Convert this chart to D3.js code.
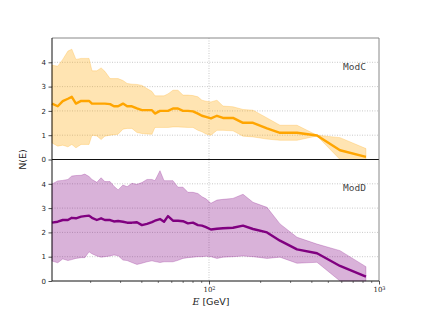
<!DOCTYPE html>
<html>
<head>
<meta charset="utf-8">
<script src="https://cdn.jsdelivr.net/npm/d3@7"></script>
<style>
  body { margin: 0; background: #fff; }
  svg { display: block; }
  .tick text { font-family: "DejaVu Sans", sans-serif; font-size: 7px; fill: #222; }
  .grid line { stroke: #bbb; stroke-width: 0.8; stroke-dasharray: 1,1.5; }
</style>
</head>
<body>
<div id="chart"></div>
<script>
// energy bins (GeV), shared by both panels
const energy = [11.93, 12.9, 13.8, 14.8, 15.6, 16.5, 17.7, 18.6, 19.7, 20.5, 21.9, 23.2, 24.4, 26.2, 27.6, 29.2,
  31.2, 33.0, 35.2, 37.7, 40.3, 43.2, 46.2, 48.1, 51.5, 54.4, 57.4, 61.4, 65.7, 70.3, 75.2, 80.5, 86.1, 90.9,
  96.0, 102.7, 111.4, 120.9, 138.4, 158.5, 181.5, 219.4, 261.6, 329.4, 431.8, 589.7, 838];

// ModC
const modCMean = [2.30, 2.19, 2.40, 2.50, 2.58, 2.30, 2.41, 2.41, 2.41, 2.30, 2.30, 2.30, 2.30, 2.28, 2.19, 2.19,
  2.30, 2.19, 2.19, 2.10, 2.03, 2.03, 2.03, 1.89, 2.00, 2.00, 2.00, 2.10, 2.10, 2.00, 2.00, 1.98, 1.89, 1.80,
  1.75, 1.69, 1.80, 1.71, 1.71, 1.51, 1.51, 1.28, 1.10, 1.10, 0.99, 0.38, 0.11];
const modCUpper = [3.88, 3.84, 4.12, 4.46, 4.54, 4.12, 4.16, 4.16, 4.16, 3.65, 3.65, 3.77, 3.63, 3.33, 3.33, 3.33,
  3.25, 3.13, 3.10, 3.09, 3.05, 2.92, 2.80, 2.62, 2.62, 2.62, 2.70, 2.85, 2.85, 2.65, 2.65, 2.63, 2.58, 2.44,
  2.40, 2.37, 2.44, 2.20, 2.17, 2.06, 2.03, 1.71, 1.41, 1.41, 1.00, 0.90, 0.45];
const modCLower = [0.68, 0.55, 0.59, 0.52, 0.62, 0.48, 0.62, 0.62, 0.62, 1.00, 0.97, 0.82, 0.96, 1.00, 1.02, 1.04,
  1.25, 1.28, 1.28, 1.11, 1.07, 1.05, 1.04, 1.32, 1.32, 1.32, 1.32, 1.34, 1.34, 1.33, 1.32, 1.32, 1.20, 1.14,
  1.05, 1.00, 1.20, 1.20, 1.18, 0.96, 0.93, 0.84, 0.79, 0.79, 0.97, 0.00, 0.00];

// ModD
const modDMean = [2.40, 2.44, 2.51, 2.51, 2.60, 2.58, 2.65, 2.67, 2.69, 2.60, 2.51, 2.58, 2.51, 2.51, 2.45, 2.47,
  2.44, 2.40, 2.40, 2.42, 2.30, 2.35, 2.42, 2.48, 2.55, 2.44, 2.67, 2.48, 2.48, 2.46, 2.37, 2.40, 2.30, 2.28,
  2.22, 2.12, 2.15, 2.17, 2.19, 2.28, 2.14, 2.00, 1.66, 1.30, 1.14, 0.62, 0.18];
const modDUpper = [3.99, 4.12, 4.14, 4.18, 4.32, 4.34, 4.35, 4.40, 4.30, 4.18, 4.06, 4.25, 4.09, 4.09, 3.90, 3.75,
  3.95, 3.88, 4.02, 3.98, 4.05, 4.18, 4.18, 4.13, 4.54, 4.13, 4.13, 4.13, 3.86, 3.86, 3.65, 3.65, 3.60, 3.47,
  3.38, 3.20, 3.33, 3.36, 3.40, 3.57, 3.24, 3.03, 2.35, 1.80, 1.52, 1.25, 0.59];
const modDLower = [0.82, 0.75, 0.91, 0.84, 0.88, 0.93, 0.96, 0.96, 1.20, 1.12, 1.03, 0.98, 1.00, 1.03, 1.07, 1.04,
  0.86, 0.84, 0.76, 0.68, 0.73, 0.79, 0.83, 0.80, 0.76, 0.79, 0.79, 0.79, 0.85, 0.93, 0.96, 0.98, 1.00, 1.00,
  1.02, 1.00, 0.93, 0.98, 1.00, 1.03, 1.00, 0.93, 0.98, 0.73, 0.77, 0.00, 0.00];

const yTicks = [0, 1, 2, 3, 4];
const xMajor = [100, 1000];
const xMinor = [20, 30, 40, 50, 60, 70, 80, 90, 200, 300, 400, 500, 600, 700, 800, 900];

const panels = [
  { name: 'ModC', color: '#ffa500', fill: 'rgba(255,165,0,0.3)', mean: modCMean, upper: modCUpper, lower: modCLower },
  { name: 'ModD', color: '#800080', fill: 'rgba(128,0,128,0.3)', mean: modDMean, upper: modDUpper, lower: modDLower }
];

const W = 421, H = 316;
const margin = { left: 52, right: 42, top: 38 };
const panelH = 121.5;
const plotW = W - margin.left - margin.right;

const svg = d3.select('#chart').append('svg').attr('width', W).attr('height', H);

const x = d3.scaleLog().domain([11.93, 1000]).range([margin.left, margin.left + plotW]);

panels.forEach((p, i) => {
  const top = margin.top + i * panelH;
  const y = d3.scaleLinear().domain([0, 5]).range([top + panelH, top]);
  const g = svg.append('g');

  // grid
  const grid = g.append('g').attr('class', 'grid');
  grid.selectAll('.hg').data([1, 2, 3, 4]).join('line')
    .attr('x1', margin.left).attr('x2', margin.left + plotW)
    .attr('y1', d => y(d)).attr('y2', d => y(d));
  grid.selectAll('.vg').data([100]).join('line')
    .attr('x1', d => x(d)).attr('x2', d => x(d))
    .attr('y1', top).attr('y2', top + panelH);

  const rows = energy.map((e, k) => ({ e, m: p.mean[k], lo: p.lower[k], hi: p.upper[k] }));

  g.append('path').datum(rows)
    .attr('fill', p.fill)
    .attr('stroke', p.fill)
    .attr('stroke-width', 0.8)
    .attr('d', d3.area().x(d => x(d.e)).y0(d => y(d.lo)).y1(d => y(d.hi)));

  g.append('path').datum(rows)
    .attr('fill', 'none')
    .attr('stroke', p.color)
    .attr('stroke-width', 2.4)
    .attr('stroke-linejoin', 'round')
    .attr('d', d3.line().x(d => x(d.e)).y(d => y(d.m)));

  // y axis
  const ya = g.append('g').attr('transform', `translate(${margin.left},0)`)
    .call(d3.axisLeft(y).tickValues(yTicks).tickSize(3.5).tickPadding(2.5).tickFormat(d3.format('d')));
  ya.select('.domain').remove();
  ya.selectAll('.tick line').attr('stroke', '#222').attr('stroke-width', 0.8);

  // spines
  g.append('line').attr('x1', margin.left).attr('x2', margin.left + plotW)
    .attr('y1', top).attr('y2', top)
    .attr('stroke', i === 0 ? '#888' : '#111').attr('stroke-width', 1);
  g.append('line').attr('x1', margin.left + plotW).attr('x2', margin.left + plotW)
    .attr('y1', top).attr('y2', top + panelH)
    .attr('stroke', '#888').attr('stroke-width', 1);
  g.append('line').attr('x1', margin.left).attr('x2', margin.left)
    .attr('y1', top).attr('y2', top + panelH)
    .attr('stroke', '#111').attr('stroke-width', 1);
  g.append('line').attr('x1', margin.left).attr('x2', margin.left + plotW)
    .attr('y1', top + panelH).attr('y2', top + panelH)
    .attr('stroke', '#111').attr('stroke-width', 1);

  // panel label
  g.append('text')
    .attr('x', margin.left + plotW - 13).attr('y', y(3.7))
    .attr('text-anchor', 'end')
    .style('font-family', '"DejaVu Sans Mono", monospace')
    .style('font-size', '9.5px')
    .attr('fill', '#444')
    .text(p.name);

  if (i === panels.length - 1) {
    const bottom = top + panelH;
    const xa = svg.append('g').attr('transform', `translate(0,${bottom})`)
      .call(d3.axisBottom(x).tickValues(xMajor).tickSize(3.5).tickPadding(3).tickFormat(() => ''));
    xa.select('.domain').remove();
    xa.selectAll('.tick line').attr('stroke', '#222').attr('stroke-width', 0.8);
    xa.selectAll('.tick text').each(function(d) {
      const t = d3.select(this)
        .style('font-family', '"DejaVu Serif", serif').style('font-size', '7px').attr('fill', '#333');
      t.append('tspan').text('10');
      t.append('tspan').attr('dy', '-0.45em').style('font-size', '5px').text(Math.round(Math.log10(d)));
    });
    const xm = svg.append('g').attr('transform', `translate(0,${bottom})`)
      .call(d3.axisBottom(x).tickValues(xMinor).tickSize(2).tickFormat(() => ''));
    xm.select('.domain').remove();
    xm.selectAll('.tick line').attr('stroke', '#222').attr('stroke-width', 0.6);

    const xl = svg.append('text')
      .attr('x', 211).attr('y', bottom + 24)
      .attr('text-anchor', 'middle')
      .style('font-size', '9.5px')
      .attr('fill', '#222');
    xl.append('tspan').style('font-family', '"DejaVu Serif", serif').style('font-style', 'italic').text('E');
    xl.append('tspan').style('font-family', '"DejaVu Sans", sans-serif').text(' [GeV]');
  }
});

svg.append('text')
  .attr('transform', `translate(26,${margin.top + panelH}) rotate(-90)`)
  .attr('text-anchor', 'middle')
  .style('font-family', '"DejaVu Sans", sans-serif')
  .style('font-size', '9.5px')
  .attr('fill', '#222')
  .text('N(E)');
</script>
</body>
</html>
